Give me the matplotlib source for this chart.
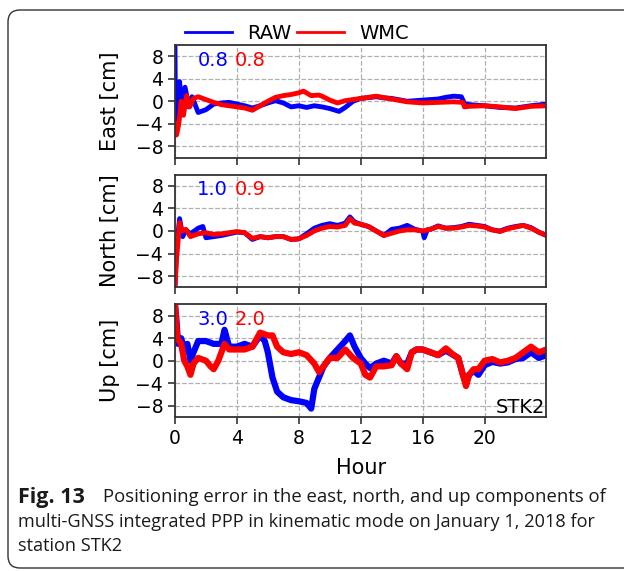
#!/usr/bin/env python3
"""
Positioning error (E/N/U) for station STK2, RAW vs WMC, multi-GNSS kinematic PPP.
"""

import matplotlib
matplotlib.use("Agg")
import matplotlib.pyplot as plt
from matplotlib.patches import FancyBboxPatch
from matplotlib.transforms import IdentityTransform

plt.rcParams["font.family"] = ["DejaVu Sans"]

# ---- data (hour, cm) ----
east_t_raw = [0, 0.03, 0.15, 0.3, 0.45, 0.65, 0.9, 1.1, 1.5, 2.0, 2.5, 3.0, 3.5, 4.0,
              4.5, 5.0, 5.5, 6.0, 6.5, 7.0, 7.5, 8.0, 8.5, 9.0, 9.5, 10.0, 10.6, 11.0,
              11.5, 12.0, 13.0, 13.5, 14.0, 15.0, 16.0, 17.0, 17.5, 18.0, 18.5, 18.7,
              19.0, 20.0, 21.0, 22.0, 23.0, 24.0]
east_raw = [10, -3, -5, 3.5, -2, 2.5, -1, 0.8, -2.0, -1.5, -0.5, -0.3, -0.2, -0.5,
            -0.8, -1.2, -0.8, -0.3, 0.1, -0.3, -1.0, -0.8, -1.1, -0.8, -1.0, -1.3, -1.8, -1.1,
            0.0, 0.5, 0.8, 0.6, 0.5, 0.0, 0.2, 0.4, 0.7, 0.9, 0.8, -0.4,
            -0.6, -0.8, -1.1, -1.2, -0.8, -0.5]

east_t_wmc = [0, 0.1, 0.25, 0.4, 0.55, 0.75, 0.95, 1.2, 1.5, 2.0, 2.5, 3.0, 3.5, 4.0,
              4.5, 5.0, 5.5, 6.0, 6.5, 7.0, 7.5, 8.0, 8.3, 8.8, 9.3, 9.5, 10.0, 10.5,
              11.0, 12.0, 13.0, 14.0, 15.0, 16.0, 17.0, 18.0, 18.6, 18.7, 19.0, 20.0,
              21.0, 22.0, 23.0, 24.0]
east_wmc = [-4, -6, -4, 0, -2.5, 1, -1, 0.5, 0.8, 0.3, -0.2, -0.6, -0.8, -1.0,
            -1.2, -1.6, -0.8, 0.0, 0.7, 1.0, 1.2, 1.5, 1.8, 1.0, 1.1, 0.9, 0.2, -0.3,
            0.1, 0.5, 0.9, 0.4, -0.1, -0.3, -0.2, -0.1, -0.2, -1.0, -0.9, -0.8,
            -1.0, -1.3, -0.9, -0.8]

north_t_raw = [0, 0.1, 0.3, 0.5, 0.7, 1.0, 1.5, 1.8, 2.0, 2.5, 3.0, 3.5, 4.0, 4.5,
               5.0, 5.5, 6.0, 6.5, 7.0, 7.5, 8.0, 8.5, 9.0, 9.5, 10.0, 10.5, 11.0, 11.3,
               11.6, 12.0, 12.5, 13.0, 13.5, 14.0, 14.5, 15.0, 15.5, 16.0, 16.1, 16.3,
               16.5, 17.0, 17.5, 18.0, 18.5, 19.0, 19.5, 20.0, 20.5, 21.0, 21.5, 22.0,
               22.5, 23.0, 23.5, 24.0]
north_raw = [-10, -3, 2.2, -1.0, 0.2, -0.5, 0.5, 0.8, -1.2, -1.0, -0.8, -0.5, -0.2, -0.3,
             -1.5, -1.0, -1.2, -1.0, -1.0, -1.5, -1.4, -0.5, 0.5, 1.0, 1.3, 1.0, 1.4, 2.5,
             1.6, 1.2, 0.8, 0.0, -0.8, 0.3, 0.5, 1.0, 0.3, 0.0, -1.2, 0.2,
             0.3, 0.9, 0.5, 0.6, 0.8, 1.2, 1.0, 0.8, 0.2, 0.0, 0.5, 0.8,
             1.0, 0.6, -0.2, -0.8]

north_t_wmc = [0, 0.1, 0.3, 0.45, 0.7, 1.0, 1.5, 2.0, 2.5, 3.0, 3.5, 4.0, 4.5, 5.0,
               5.5, 6.0, 6.5, 7.0, 7.5, 8.0, 8.5, 9.0, 9.5, 10.0, 10.5, 11.0, 11.3, 11.6,
               12.0, 12.5, 13.0, 13.5, 14.0, 14.5, 15.0, 15.5, 16.0, 16.5, 17.0, 17.5,
               18.0, 18.5, 19.0, 19.5, 20.0, 20.5, 21.0, 21.5, 22.0, 22.5, 23.0, 23.5, 24.0]
north_wmc = [-10, -5, 1.5, 0.0, 0.3, -1.0, -0.5, -0.3, -0.6, -0.5, -0.3, -0.1, -0.3, -1.3,
             -1.0, -1.2, -1.0, -1.0, -1.5, -1.4, -0.8, 0.0, 0.5, 0.8, 0.7, 1.0, 2.2, 1.4,
             1.2, 0.8, 0.0, -0.8, -0.4, 0.0, 0.2, 0.2, 0.0, 0.3, 0.8, 0.5,
             0.5, 0.7, 1.0, 0.9, 0.7, 0.2, -0.1, 0.4, 0.7, 1.0, 0.5, -0.2, -0.8]

up_t_raw = [0, 0.1, 0.2, 0.4, 0.6, 0.8, 1.0, 1.2, 1.5, 2.0, 2.5, 3.0, 3.2, 3.5, 4.0,
            4.5, 5.0, 5.5, 5.8, 6.0, 6.3, 6.6, 7.0, 7.5, 8.0, 8.5, 8.8, 9.0, 9.3, 9.6,
            10.0, 10.5, 11.0, 11.3, 11.6, 12.0, 12.3, 12.6, 13.0, 13.5, 14.0, 14.3,
            14.6, 15.0, 15.3, 15.6, 16.0, 16.5, 17.0, 17.5, 18.0, 18.3, 18.6, 18.8,
            19.0, 19.3, 19.6, 20.0, 20.5, 21.0, 21.5, 22.0, 22.5, 23.0, 23.5, 24.0]
up_raw = [10, 7, 3, 4, 2, 3, 0, 1.5, 3.5, 3.5, 3.0, 3.0, 5.5, 2.5, 2.5,
          3.0, 2.5, 4.5, 3.5, 1.5, -3.0, -5.5, -6.5, -7.0, -7.2, -7.5, -8.5, -5.0, -3.0, -1.0,
          0.5, 2.0, 3.5, 4.5, 2.5, 0.5, -0.5, -1.3, -0.5, 0.0, -0.5, 0.8,
          -0.5, -0.5, 1.5, 2.0, 2.0, 1.5, 1.0, 1.8, 1.0, 0.5, -2.5, -4.0,
          -2.5, -1.8, -2.5, -0.8, -0.2, -0.5, -0.3, 0.3, 0.5, 1.5, 0.5, 1.0]

up_t_wmc = [0, 0.15, 0.4, 0.6, 0.8, 1.0, 1.2, 1.5, 2.0, 2.3, 2.5, 2.8, 3.2, 3.5, 4.0,
            4.5, 5.0, 5.5, 6.0, 6.3, 6.6, 7.0, 7.5, 8.0, 8.5, 9.0, 9.3, 9.6, 10.0, 10.5,
            11.0, 11.5, 12.0, 12.3, 12.6, 13.0, 13.5, 14.0, 14.3, 14.6, 15.0, 15.3,
            15.6, 16.0, 16.5, 17.0, 17.5, 18.0, 18.3, 18.6, 18.8, 19.0, 19.3, 19.6,
            20.0, 20.5, 21.0, 21.5, 22.0, 22.5, 23.0, 23.5, 24.0]
up_wmc = [10, 4, 3, 0, -1, -2.5, -0.5, 0.5, 0.0, -1.0, -1.5, 0.0, 3.0, 2.0, 2.0,
          2.0, 2.5, 5.0, 4.5, 4.5, 2.5, 1.5, 1.2, 1.5, 1.0, -0.5, -2.0, -1.0, 0.5, 0.5,
          2.0, 0.5, -0.5, -2.5, -3.0, -1.0, -1.0, -0.8, 0.8, -0.5, -1.5, 1.5,
          2.0, 2.0, 1.5, 1.0, 2.2, 1.0, 0.5, -2.5, -4.5, -2.5, -1.5, -1.5,
          0.0, 0.3, -0.3, 0.0, 0.5, 1.5, 2.5, 1.5, 2.0]

components = ["East", "North", "Up"]
rms_raw = ["0.8", "1.0", "3.0"]
rms_wmc = ["0.8", "0.9", "2.0"]
series = [
    (east_t_raw, east_raw, east_t_wmc, east_wmc),
    (north_t_raw, north_raw, north_t_wmc, north_wmc),
    (up_t_raw, up_raw, up_t_wmc, up_wmc),
]
yticks = [-8, -4, 0, 4, 8]
xticks = [0, 4, 8, 12, 16, 20]


def main():
    fig = plt.figure(figsize=(6.24, 5.71), dpi=100)
    gs = fig.add_gridspec(3, 1, left=0.2804, right=0.8758, top=0.9212,
                          bottom=0.2697, hspace=0.153)

    axes = []
    for i, comp in enumerate(components):
        ax = fig.add_subplot(gs[i])
        t_r, v_r, t_w, v_w = series[i]
        # the noisy band of the original series is mimicked with a wide line
        lw = 4.5 if comp == "Up" else 3.5
        ax.plot(t_r, v_r, color="#0000ff", lw=lw, label="RAW")
        ax.plot(t_w, v_w, color="#ff0000", lw=lw, label="WMC")

        ax.set_xlim(0, 24)
        ax.set_ylim(-10, 10)
        ax.set_yticks(yticks)
        ax.set_xticks(xticks)
        if i < 2:
            ax.set_xticklabels([])
        ax.tick_params(labelsize=13.5, length=5, width=1.2, color="#333333")
        ax.grid(True, linestyle="--", color="#b0b0b0", linewidth=0.9)
        for sp in ax.spines.values():
            sp.set_color("#333333")
            sp.set_linewidth(1.3)

        ax.set_ylabel(f"{comp} [cm]", fontsize=15)
        ax.yaxis.set_label_coords(-0.148, 0.5)

        ax.text(0.06, 0.865, rms_raw[i], color="#0000ff", fontsize=14,
                transform=ax.transAxes, ha="left", va="center")
        ax.text(0.16, 0.865, rms_wmc[i], color="#ff0000", fontsize=14,
                transform=ax.transAxes, ha="left", va="center")
        axes.append(ax)

    axes[-1].set_xlabel("Hour", fontsize=15)
    axes[-1].xaxis.set_label_coords(0.5, -0.36)
    axes[-1].text(0.995, 0.0, "STK2", fontsize=14, transform=axes[-1].transAxes,
                  ha="right", va="bottom")

    handles, labels = axes[0].get_legend_handles_labels()
    leg = fig.legend(handles, labels, loc="center", bbox_to_anchor=(0.476, 0.942),
                     ncol=2, frameon=False, fontsize=14, handlelength=2.4,
                     columnspacing=0.3, handletextpad=0.8)
    for line in leg.get_lines():
        line.set_linewidth(2)

    # caption
    cap_kw = dict(family="Open Sans", color="#1a1a1a", va="center")
    fig.text(18 / 624, 1 - 497 / 571, "Fig. 13", fontweight="bold", fontsize=15.5, **cap_kw)
    fig.text(103 / 624, 1 - 497 / 571,
             "Positioning error in the east, north, and up components of",
             fontsize=13.3, **cap_kw)
    fig.text(18 / 624, 1 - 522 / 571,
             "multi-GNSS integrated PPP in kinematic mode on January 1, 2018 for",
             fontsize=13.05, **cap_kw)
    fig.text(18 / 624, 1 - 546 / 571, "station STK2", fontsize=13.05, **cap_kw)

    # rounded outer frame (pixel coordinates)
    frame = FancyBboxPatch((8, 3), 640, 558, boxstyle="round,pad=0,rounding_size=12",
                           transform=IdentityTransform(), fill=False,
                           edgecolor="#333333", linewidth=1.0)
    fig.patches.append(frame)

    fig.savefig("out.png", dpi=100)


if __name__ == "__main__":
    main()
